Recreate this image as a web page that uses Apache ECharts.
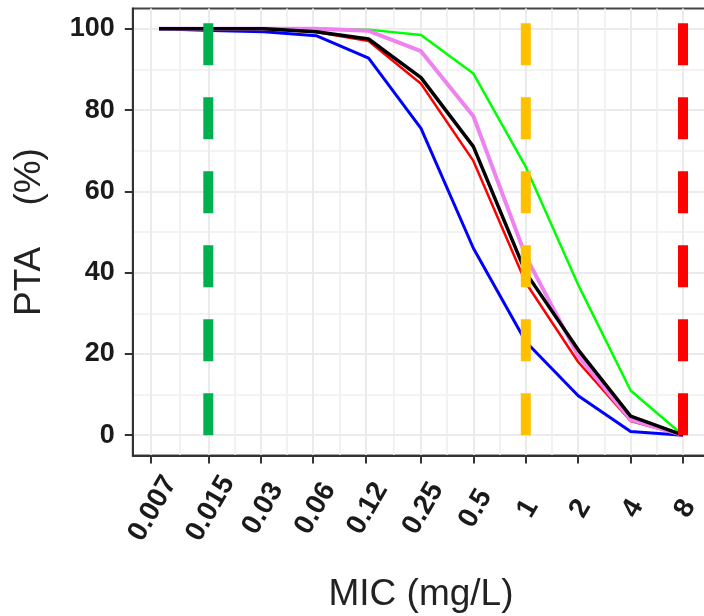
<!DOCTYPE html>
<html><head><meta charset="utf-8">
<script src="https://cdn.jsdelivr.net/npm/echarts@6/dist/echarts.min.js"></script>
<style>html,body{margin:0;padding:0;background:#fff}#c{width:704px;height:616px}</style>
</head><body><div id="c"></div>
<script>
// MIC points (mg/L) at which PTA was evaluated
const micValues = [0.0078125, 0.015625, 0.03125, 0.0625, 0.125, 0.25, 0.5, 1, 2, 4, 8];
// x tick labels (placed at their own values on the log2 scale)
const tickLabels = ['0.007', '0.015', '0.03', '0.06', '0.12', '0.25', '0.5', '1', '2', '4', '8'];
const yTicks = [0, 20, 40, 60, 80, 100];
const yMinorTicks = [10, 30, 50, 70, 90];
// PTA (%) series
const ptaGreen  = [100, 100, 100, 100, 99.8, 98.5, 89, 66, 37, 11, 0];
const ptaBlue   = [100, 99.6, 99.3, 98.3, 92.8, 75.5, 46, 23, 9.7, 0.9, 0];
const ptaRed    = [100, 100, 100, 99.2, 97, 86.5, 67.5, 37.5, 18, 3.5, 0];
const ptaViolet = [100, 100, 100, 100, 99.5, 94.5, 78.5, 44, 19.5, 3.8, 0];
const ptaBlack  = [100, 100, 100, 99.3, 97.5, 88, 71, 40, 21, 4.7, 0];
// breakpoint MIC lines (dashed) and their vertical extent (%)
const cutoffMIC = [0.015, 1, 8];
const cutoffSpan = [0, 101.6];

const log2 = Math.log2;
const xTickPos = tickLabels.map(l => log2(parseFloat(l)));
const xMinorPos = xTickPos.slice(1).map((v, i) => (v + xTickPos[i]) / 2);

function pts(vals) { return micValues.map((m, i) => [log2(m), vals[i]]); }
function fmtX(v) {
  let b = 0;
  for (let i = 1; i < xTickPos.length; i++) if (Math.abs(xTickPos[i] - v) < Math.abs(xTickPos[b] - v)) b = i;
  return tickLabels[b];
}

const FONT = 'Liberation Sans, Arial, sans-serif';
const curve = (name, data, color, width, z) => ({
  type: 'line', name, data: pts(data), symbol: 'none', z,
  lineStyle: { color, width, cap: 'butt', join: 'round' }, silent: true
});
const cutColors = ['#00B050', '#FFC000', '#FF0000'];
const cutSeries = cutoffMIC.map((m, i) => ({
  type: 'line', data: [[log2(m), cutoffSpan[0]], [log2(m), cutoffSpan[1]]], symbol: 'none', z: 10,
  lineStyle: { color: cutColors[i], width: 10, type: [42, 32], cap: 'butt' }, silent: true
}));

const chart = echarts.init(document.getElementById('c'), null, { renderer: 'canvas' });
chart.setOption({
  animation: false,
  backgroundColor: '#ffffff',
  grid: { left: 132.8, right: -5.2, top: 8.5, bottom: 160.5, show: true, borderColor: '#444', borderWidth: 2, containLabel: false, outerBoundsMode: 'none' },
  xAxis: [{
    type: 'value', min: -7.5, max: 3.5, position: 'bottom',
    name: 'MIC (mg/L)', nameLocation: 'middle', nameGap: 121,
    nameTextStyle: { fontFamily: FONT, fontSize: 37, color: '#222' },
    axisLine: { show: true, onZero: false, lineStyle: { color: '#333', width: 2 } },
    axisTick: { show: true, length: 8, customValues: xTickPos, lineStyle: { color: '#333', width: 2 } },
    axisLabel: { customValues: xTickPos, formatter: fmtX, rotate: 60, align: 'center', verticalAlign: 'middle',
      margin: 57, padding: [12, 0, 0, 9], fontFamily: FONT, fontWeight: 'bold', fontSize: 28, color: '#1a1a1a' },
    splitLine: { show: true, lineStyle: { color: '#EBEBEB', width: 2 } }
  }, {
    type: 'value', min: -7.5, max: 3.5, position: 'top',
    axisLine: { show: false }, axisLabel: { show: false },
    axisTick: { show: false, customValues: xMinorPos },
    splitLine: { show: true, lineStyle: { color: '#EFEFEF', width: 1.6 } }
  }],
  yAxis: [{
    type: 'value', min: -5, max: 105, position: 'left',
    name: 'PTA\u00A0\u00A0\u00A0\u00A0(%)', nameLocation: 'middle', nameGap: 85,
    nameTextStyle: { fontFamily: FONT, fontSize: 37, color: '#222' },
    axisLine: { show: true, onZero: false, lineStyle: { color: '#333', width: 2 } },
    axisTick: { show: true, length: 8, customValues: yTicks, lineStyle: { color: '#333', width: 2 } },
    axisLabel: { customValues: yTicks, margin: 18, fontFamily: FONT, fontWeight: 'bold', fontSize: 27, color: '#1a1a1a' },
    splitLine: { show: true, lineStyle: { color: '#EBEBEB', width: 2 } }
  }, {
    type: 'value', min: -5, max: 105, position: 'right',
    axisLine: { show: false }, axisLabel: { show: false },
    axisTick: { show: false, customValues: yMinorTicks },
    splitLine: { show: true, lineStyle: { color: '#EFEFEF', width: 1.6 } }
  }],
  series: [
    curve('green', ptaGreen, '#00FF00', 2.5, 3),
    curve('blue', ptaBlue, '#0000FF', 3, 4),
    curve('red', ptaRed, '#FF0000', 2.5, 5),
    curve('violet', ptaViolet, '#EE82EE', 4, 6),
    curve('black', ptaBlack, '#000000', 3.5, 7),
    ...cutSeries
  ]
});
</script></body></html>
